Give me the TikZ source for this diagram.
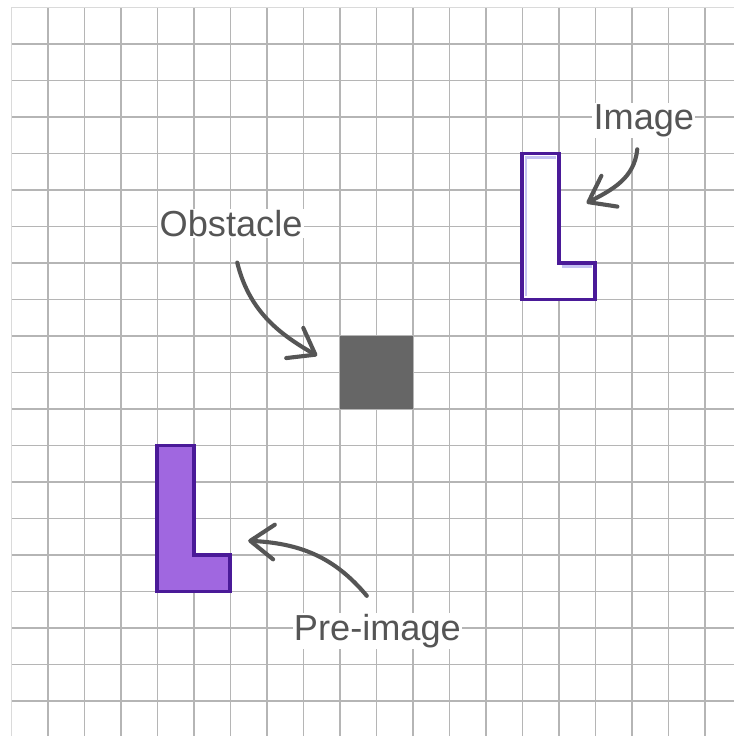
\documentclass[tikz,border=0pt]{standalone}
\usepackage{fontspec}
\setmainfont{Liberation Sans}
\usetikzlibrary{arrows.meta}
\definecolor{gridc}{HTML}{B5B5B5}
\definecolor{gridb}{HTML}{DADADA}
\definecolor{lfill}{HTML}{A067E0}
\definecolor{ldraw}{HTML}{4A1A98}
\definecolor{lav}{HTML}{C4C2F2}
\definecolor{obst}{HTML}{666666}
\definecolor{txt}{HTML}{555555}
\tikzset{
  lbl/.style={font=\fontsize{28.2}{33}\selectfont, text=txt, fill=white, inner sep=1pt, anchor=base},
  pointer/.style={draw=txt, line width=3.2pt, line cap=round,
    -{Straight Barb[length=6.5mm,width=9.5mm,round]}},
  lshape/.style={draw=ldraw, line width=3pt, line join=miter},
}
\begin{document}
\begin{tikzpicture}
\useasboundingbox (-0.31,0.205) rectangle (19.80,-19.96);
\fill[white] (-0.31,0.205) rectangle (19.80,-19.96);
% grid
\foreach \i in {1,...,20} {
  \draw[gridc, line width=1.2pt] (\i,0) -- (\i,-20.5);
  \draw[gridc, line width=1.2pt] (0,-\i) -- (20.5,-\i);
}
\draw[gridb, line width=1.2pt] (0,-20.5) -- (0,0) -- (20.5,0);
% obstacle
\fill[obst] (9,-9) rectangle (11,-11);
% pre-image L
\draw[lshape, fill=lfill] (4,-12) -- (5,-12) -- (5,-15) -- (6,-15) -- (6,-16) -- (4,-16) -- cycle;
% image L
\fill[white] (14,-4) -- (15,-4) -- (15,-7) -- (16,-7) -- (16,-8) -- (14,-8) -- cycle;
\draw[lav, line width=2.2pt] (14.1,-7.9) -- (14.1,-4.1) -- (14.92,-4.1);
\draw[lav, line width=2.2pt] (15.08,-7.1) -- (15.92,-7.1);
\draw[lshape] (14,-4) -- (15,-4) -- (15,-7) -- (16,-7) -- (16,-8) -- (14,-8) -- cycle;
% labels
\node[lbl] (obsl) at (6.02,-6.28) {Obstacle};
\node[lbl] (imgl) at (17.33,-3.34) {Image};
\node[lbl] (prel) at (10.03,-17.33) {Pre-image};
% arrow endpoints
\coordinate (imgS) at (17.15,-3.885);
\coordinate (imgT) at (15.76,-5.36);
\coordinate (obsS) at (6.19,-6.99);
\coordinate (obsT) at (8.38,-9.54);
\coordinate (preS) at (9.74,-16.12);
\coordinate (preT) at (6.49,-14.61);
\draw[pointer] (imgS) .. controls (17.07,-4.68) and (16.47,-4.99) .. (imgT);
\draw[pointer] (obsS) .. controls (6.5,-8.25) and (7.25,-8.9) .. (obsT);
\draw[pointer] (preS) .. controls (8.84,-15.04) and (7.89,-14.68) .. (preT);
\end{tikzpicture}
\end{document}
